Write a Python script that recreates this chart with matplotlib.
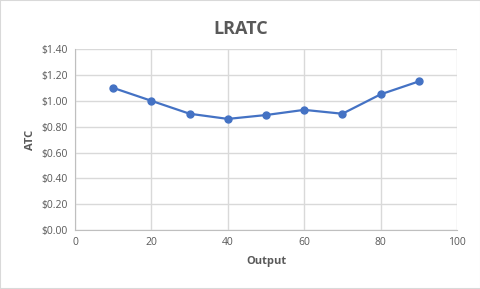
import matplotlib
matplotlib.use("Agg")
import matplotlib.pyplot as plt
from matplotlib.patches import Rectangle
from matplotlib.ticker import FuncFormatter, MultipleLocator

output = [10, 20, 30, 40, 50, 60, 70, 80, 90]
atc = [1.10, 1.00, 0.90, 0.86, 0.89, 0.93, 0.90, 1.05, 1.15]

plt.rcParams['font.family'] = ['Open Sans', 'DejaVu Sans']
txt = '#595959'
fig = plt.figure(figsize=(4.81, 2.89), dpi=100)
fig.patches.append(Rectangle((0, 0), 1, 1, transform=fig.transFigure, fill=False,
                             edgecolor='#d9d9d9', linewidth=1.5))
ax = fig.add_axes([0.156, 0.204, 0.794, 0.626])
ax.plot(output, atc, color='#4472C4', linewidth=1.6, marker='o', markersize=5)
ax.set_xlim(0, 100)
ax.set_ylim(0, 1.4)
ax.xaxis.set_major_locator(MultipleLocator(20))
ax.yaxis.set_major_locator(MultipleLocator(0.2))
ax.yaxis.set_major_formatter(FuncFormatter(lambda v, p: f"${v:.2f}"))
ax.grid(True, color='#d9d9d9', linewidth=1)
ax.set_axisbelow(True)
for s in ['top', 'right']:
    ax.spines[s].set_visible(False)
for s in ['left', 'bottom']:
    ax.spines[s].set_color('#bfbfbf')
ax.tick_params(length=0, colors=txt, labelsize=7.5, pad=5)
ax.set_xlabel('Output', color=txt, fontsize=8, fontweight='bold', labelpad=6)
ax.set_ylabel('ATC', color=txt, fontsize=8, fontweight='bold', labelpad=4)
fig.text(0.5, 0.9, 'LRATC', ha='center', va='center', color=txt, fontsize=13, fontweight='bold')
fig.savefig('out.png', dpi=100)
